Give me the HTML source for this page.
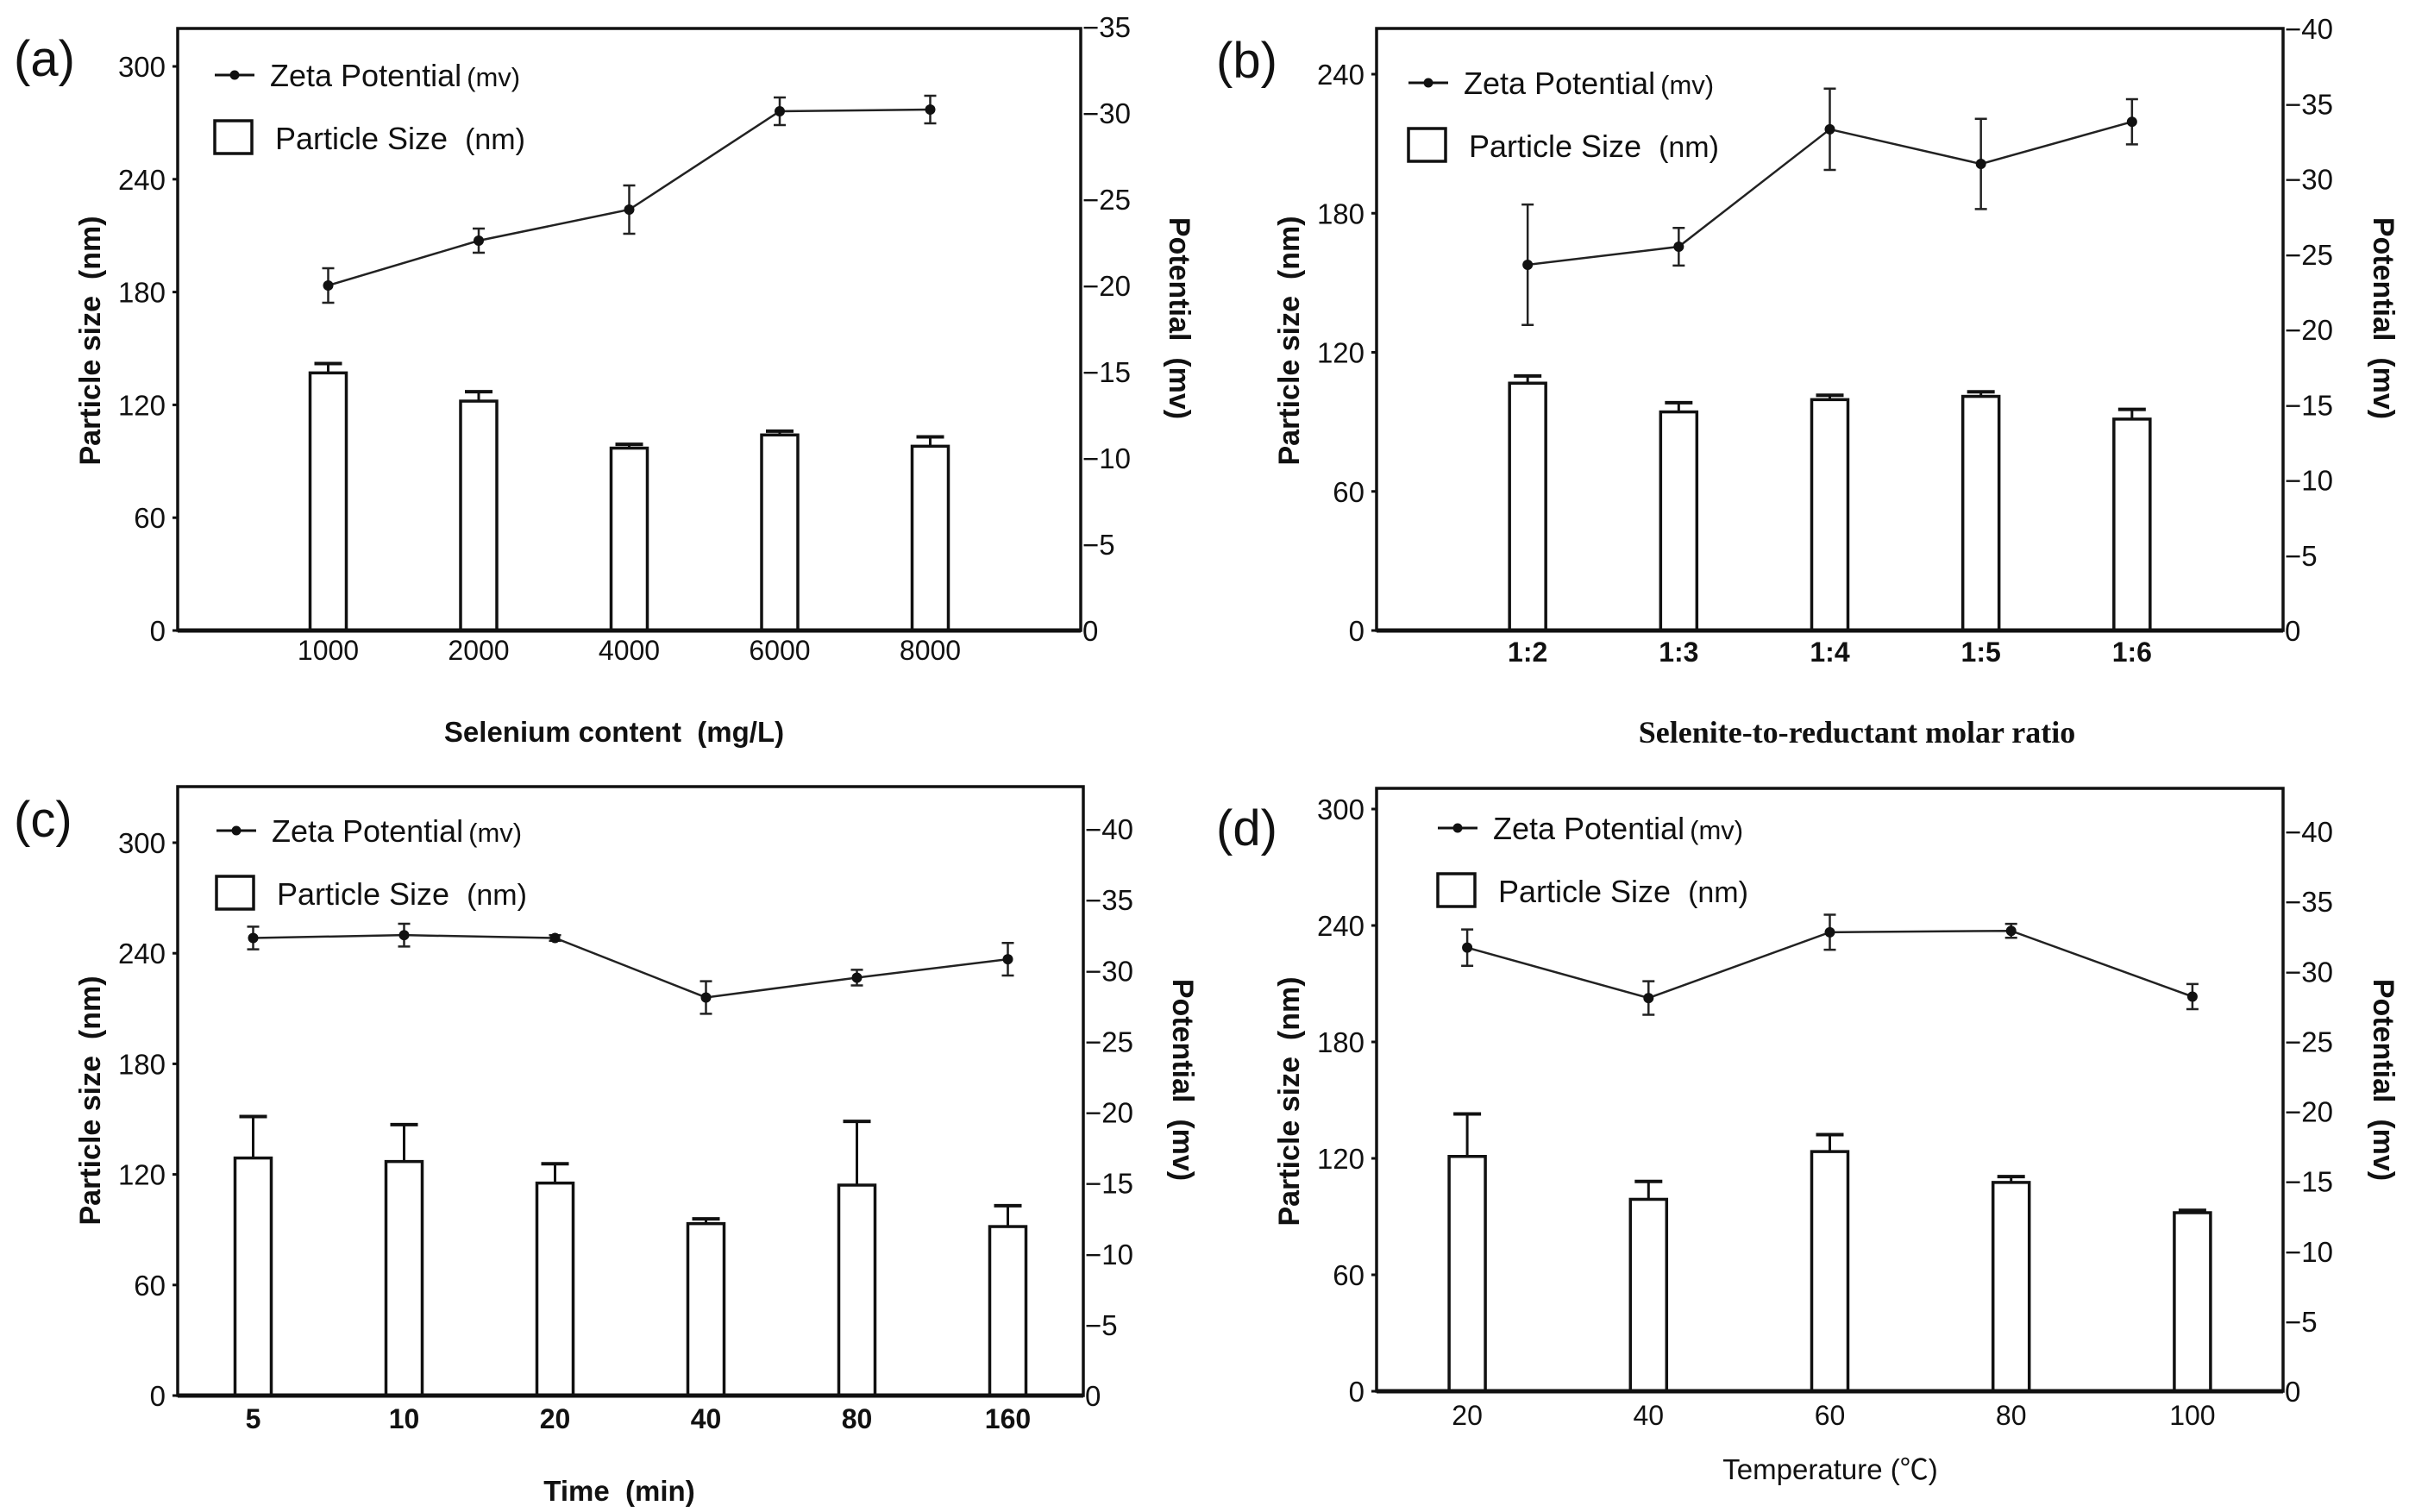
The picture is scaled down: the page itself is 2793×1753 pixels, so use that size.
<!DOCTYPE html>
<html><head><meta charset="utf-8"><style>
html,body{margin:0;padding:0;background:#fff;}
svg{display:block;}
text{font-family:"Liberation Sans","Noto Sans CJK SC",sans-serif;fill:#111;}
</style></head><body>
<svg id="fig" width="2793" height="1753" viewBox="0 0 2793 1753" xmlns="http://www.w3.org/2000/svg"></svg>
<script>
// Panel (a)
const catsA = ["1000","2000","4000","6000","8000"];
const barA = [137, 122, 97, 104, 98];
const barErrA = [5, 5, 2, 2, 5];
const zetaA = [20, 22.6, 24.4, 30.1, 30.2];
const zetaErrA = [1.0, 0.7, 1.4, 0.8, 0.8];
const leftTicksA = [0,60,120,180,240,300];
const rightTicksA = [0,5,10,15,20,25,30,35];
// Panel (b)
const catsB = ["1:2","1:3","1:4","1:5","1:6"];
const barB = [106.7, 94.3, 99.6, 101, 91.2];
const barErrB = [3.1, 4.0, 1.9, 2.0, 4.2];
const zetaB = [24.3, 25.5, 33.3, 31.0, 33.8];
const zetaErrB = [4.0, 1.25, 2.7, 3.0, 1.5];
const leftTicksB = [0,60,120,180,240];
const rightTicksB = [0,5,10,15,20,25,30,35,40];
// Panel (c)
const catsC = ["5","10","20","40","80","160"];
const barC = [128.9, 127, 115.3, 93.3, 114.2, 91.7];
const barErrC = [22.5, 20, 10.5, 2.6, 34.6, 11.3];
const zetaC = [32.3, 32.5, 32.3, 28.1, 29.5, 30.8];
const zetaErrC = [0.8, 0.8, 0.2, 1.15, 0.55, 1.15];
const leftTicksC = [0,60,120,180,240,300];
const rightTicksC = [0,5,10,15,20,25,30,35,40];
// Panel (d)
const catsD = ["20","40","60","80","100"];
const barD = [121, 98.9, 123.5, 107.6, 92];
const barErrD = [21.9, 9.2, 8.7, 3.0, 1.2];
const zetaD = [31.7, 28.1, 32.8, 32.9, 28.2];
const zetaErrD = [1.3, 1.2, 1.25, 0.5, 0.9];
const leftTicksD = [0,60,120,180,240,300];
const rightTicksD = [0,5,10,15,20,25,30,35,40];

const NS = "http://www.w3.org/2000/svg";
const svg = document.getElementById('fig');
function mk(tag, attrs, parent, txt){
  const e = document.createElementNS(NS, tag);
  for (const k in attrs) e.setAttribute(k, attrs[k]);
  if (txt !== undefined) e.textContent = txt;
  (parent||svg).appendChild(e);
  return e;
}

function panel(cfg, cats, bars, barErr, zeta, zetaErr, lTicks, rTicks){
  const g = mk('g', {});
  
  
  const L=cfg.L,R=cfg.R,T=cfg.T,B=cfg.B;
  const yL = v => B - (v - 0) * (B - cfg.yTop) / cfg.lTop;
  const yR = v => B - v * (B - cfg.rTopY) / cfg.rTop;
  const slot = (R - L) / cfg.slots;
  const xC = i => L + (i + cfg.off) * slot;

  for (let i=0;i<cats.length;i++){
    const x = xC(i), w = 42;
    const top = yL(bars[i]), et = yL(bars[i]+barErr[i]);
    const eb = mk('line',{x1:x,x2:x,y1:top,y2:et,stroke:'#111','stroke-width':3},g);
    
    
    const cap = mk('line',{x1:x-16,x2:x+16,y1:et,y2:et,stroke:'#111','stroke-width':4},g);
    
    
    const r = mk('rect',{x:x-w/2,y:top,width:w,height:B-top,fill:'#fff',stroke:'#111','stroke-width':3.5},g);
    
    
  }
  let d='';
  for (let i=0;i<cats.length;i++) d += (i?'L':'M') + xC(i) + ' ' + yR(zeta[i]) + ' ';
  const pl = mk('path',{d:d,fill:'none',stroke:'#222','stroke-width':2.5},g);
  
  
  for (let i=0;i<cats.length;i++){
    const x=xC(i), y=yR(zeta[i]);
    const y1=yR(zeta[i]+zetaErr[i]), y2=yR(zeta[i]-zetaErr[i]);
    const el = mk('path',{d:`M${x} ${y1}L${x} ${y2}M${x-7} ${y1}L${x+7} ${y1}M${x-7} ${y2}L${x+7} ${y2}`,stroke:'#222','stroke-width':2.5,fill:'none'},g);
    
    
    const c = mk('circle',{cx:x,cy:y,r:6,fill:'#111'},g);
    
    
  }
  const fr = mk('rect',{x:L,y:T,width:R-L,height:B-T,fill:'none',stroke:'#111','stroke-width':3.5},g);
  
  
  const xa = mk('line',{x1:L,x2:R,y1:B,y2:B,stroke:'#111','stroke-width':5},g);
  
  
  for (const v of lTicks){
    const y=yL(v);
    const tk = mk('line',{x1:L-6,x2:L,y1:y,y2:y,stroke:'#111','stroke-width':3},g);
    
    
    const t = mk('text',{x:L-14,y:y+12,'font-size':33,'text-anchor':'end'},g,String(v));
    
    
  }
  for (const v of rTicks){
    const y=yR(v);
    const t = mk('text',{x:R+2,y:y+12,'font-size':33},g,v===0?'0':'\u2212'+v);
    
    
  }
  for (let i=0;i<cats.length;i++){
    const t = mk('text',{x:xC(i),y:cfg.xlY,'font-size':32,'text-anchor':'middle','font-weight':cfg.xBold?'bold':'normal'},g,cats[i]);
    
    
  }
  const xt = mk('text',{x:cfg.xtX,y:cfg.xtY,'font-size':cfg.xtSerif?36:33,'text-anchor':'middle','font-weight':cfg.xtBold?'bold':'normal'},g,cfg.xTitle);
  if (cfg.xtSerif) xt.setAttribute('style','font-family:"Liberation Serif",serif');
  
  
  const lt = mk('text',{x:0,y:0,'font-size':34,'font-weight':'bold','text-anchor':'middle',transform:`translate(${cfg.ltX},${cfg.ltY}) rotate(-90)`},g,'Particle size\u00a0\u00a0(nm)');
  
  
  const rt = mk('text',{x:0,y:0,'font-size':34,'font-weight':'bold','text-anchor':'middle',transform:`translate(${cfg.rtX},${cfg.rtY}) rotate(90)`},g,'Potential\u00a0\u00a0(mv)');
  
  
  const pl2 = mk('text',{x:cfg.lbX,y:cfg.lbY,'font-size':58},g,'('+cfg.id+')');
  
  
  const lg = mk('g',{},g);
  
  
  const ln = mk('line',{x1:cfg.lgX,x2:cfg.lgX+46,y1:cfg.lgY,y2:cfg.lgY,stroke:'#111','stroke-width':3},lg);
  
  
  const ld = mk('circle',{cx:cfg.lgX+23,cy:cfg.lgY,r:5.5,fill:'#111'},lg);
  
  
  const lt1 = mk('text',{x:cfg.lgX+64,y:cfg.lgY+13,'font-size':36},lg);
  
  
  mk('tspan',{},lt1,'Zeta Potential');
  mk('tspan',{'font-size':31,dx:6},lt1,'(mv)');
  const lb = mk('rect',{x:cfg.lgX,y:cfg.lgY+53,width:43,height:38,fill:'#fff',stroke:'#111','stroke-width':3.5},lg);
  
  
  const lt2 = mk('text',{x:cfg.lgX+70,y:cfg.lgY+86,'font-size':36},lg);
  
  
  mk('tspan',{},lt2,'Particle Size');
  mk('tspan',{'font-size':34,dx:20},lt2,'(nm)');
}

panel({id:'a',L:206,R:1253,T:33,B:731,yTop:77,lTop:300,rTopY:31,rTop:35,slots:6,off:1,
  xlY:765,xBold:false,xTitle:'Selenium content\u00a0\u00a0(mg/L)',xtX:712,xtY:860,xtBold:true,
  ltX:116,ltY:395,rtX:1356,rtY:369,lbX:16,lbY:88,lgX:249,lgY:87},
  catsA,barA,barErrA,zetaA,zetaErrA,leftTicksA,rightTicksA);
panel({id:'b',L:1596,R:2647,T:33,B:731,yTop:86,lTop:240,rTopY:33,rTop:40,slots:6,off:1,
  xlY:767,xBold:true,xTitle:'Selenite-to-reductant molar ratio',xtX:2153,xtY:861,xtBold:true,xtSerif:true,
  ltX:1506,ltY:395,rtX:2752,rtY:369,lbX:1410,lbY:90,lgX:1633,lgY:96},
  catsB,barB,barErrB,zetaB,zetaErrB,leftTicksB,rightTicksB);
panel({id:'c',L:206,R:1256,T:912,B:1618,yTop:977,lTop:300,rTopY:961,rTop:40,slots:6,off:0.5,
  xlY:1656,xBold:true,xTitle:'Time\u00a0\u00a0(min)',xtX:718,xtY:1740,xtBold:true,
  ltX:116,ltY:1276,rtX:1360,rtY:1252,lbX:16,lbY:970,lgX:251,lgY:963},
  catsC,barC,barErrC,zetaC,zetaErrC,leftTicksC,rightTicksC);
panel({id:'d',L:1596,R:2647,T:914,B:1613,yTop:938,lTop:300,rTopY:964,rTop:40,slots:5,off:0.5,
  xlY:1652,xBold:false,xTitle:'Temperature (\u2103)',xtX:2122,xtY:1715,xtBold:false,
  ltX:1506,ltY:1277,rtX:2752,rtY:1252,lbX:1410,lbY:980,lgX:1667,lgY:960},
  catsD,barD,barErrD,zetaD,zetaErrD,leftTicksD,rightTicksD);
</script>
</body></html>
